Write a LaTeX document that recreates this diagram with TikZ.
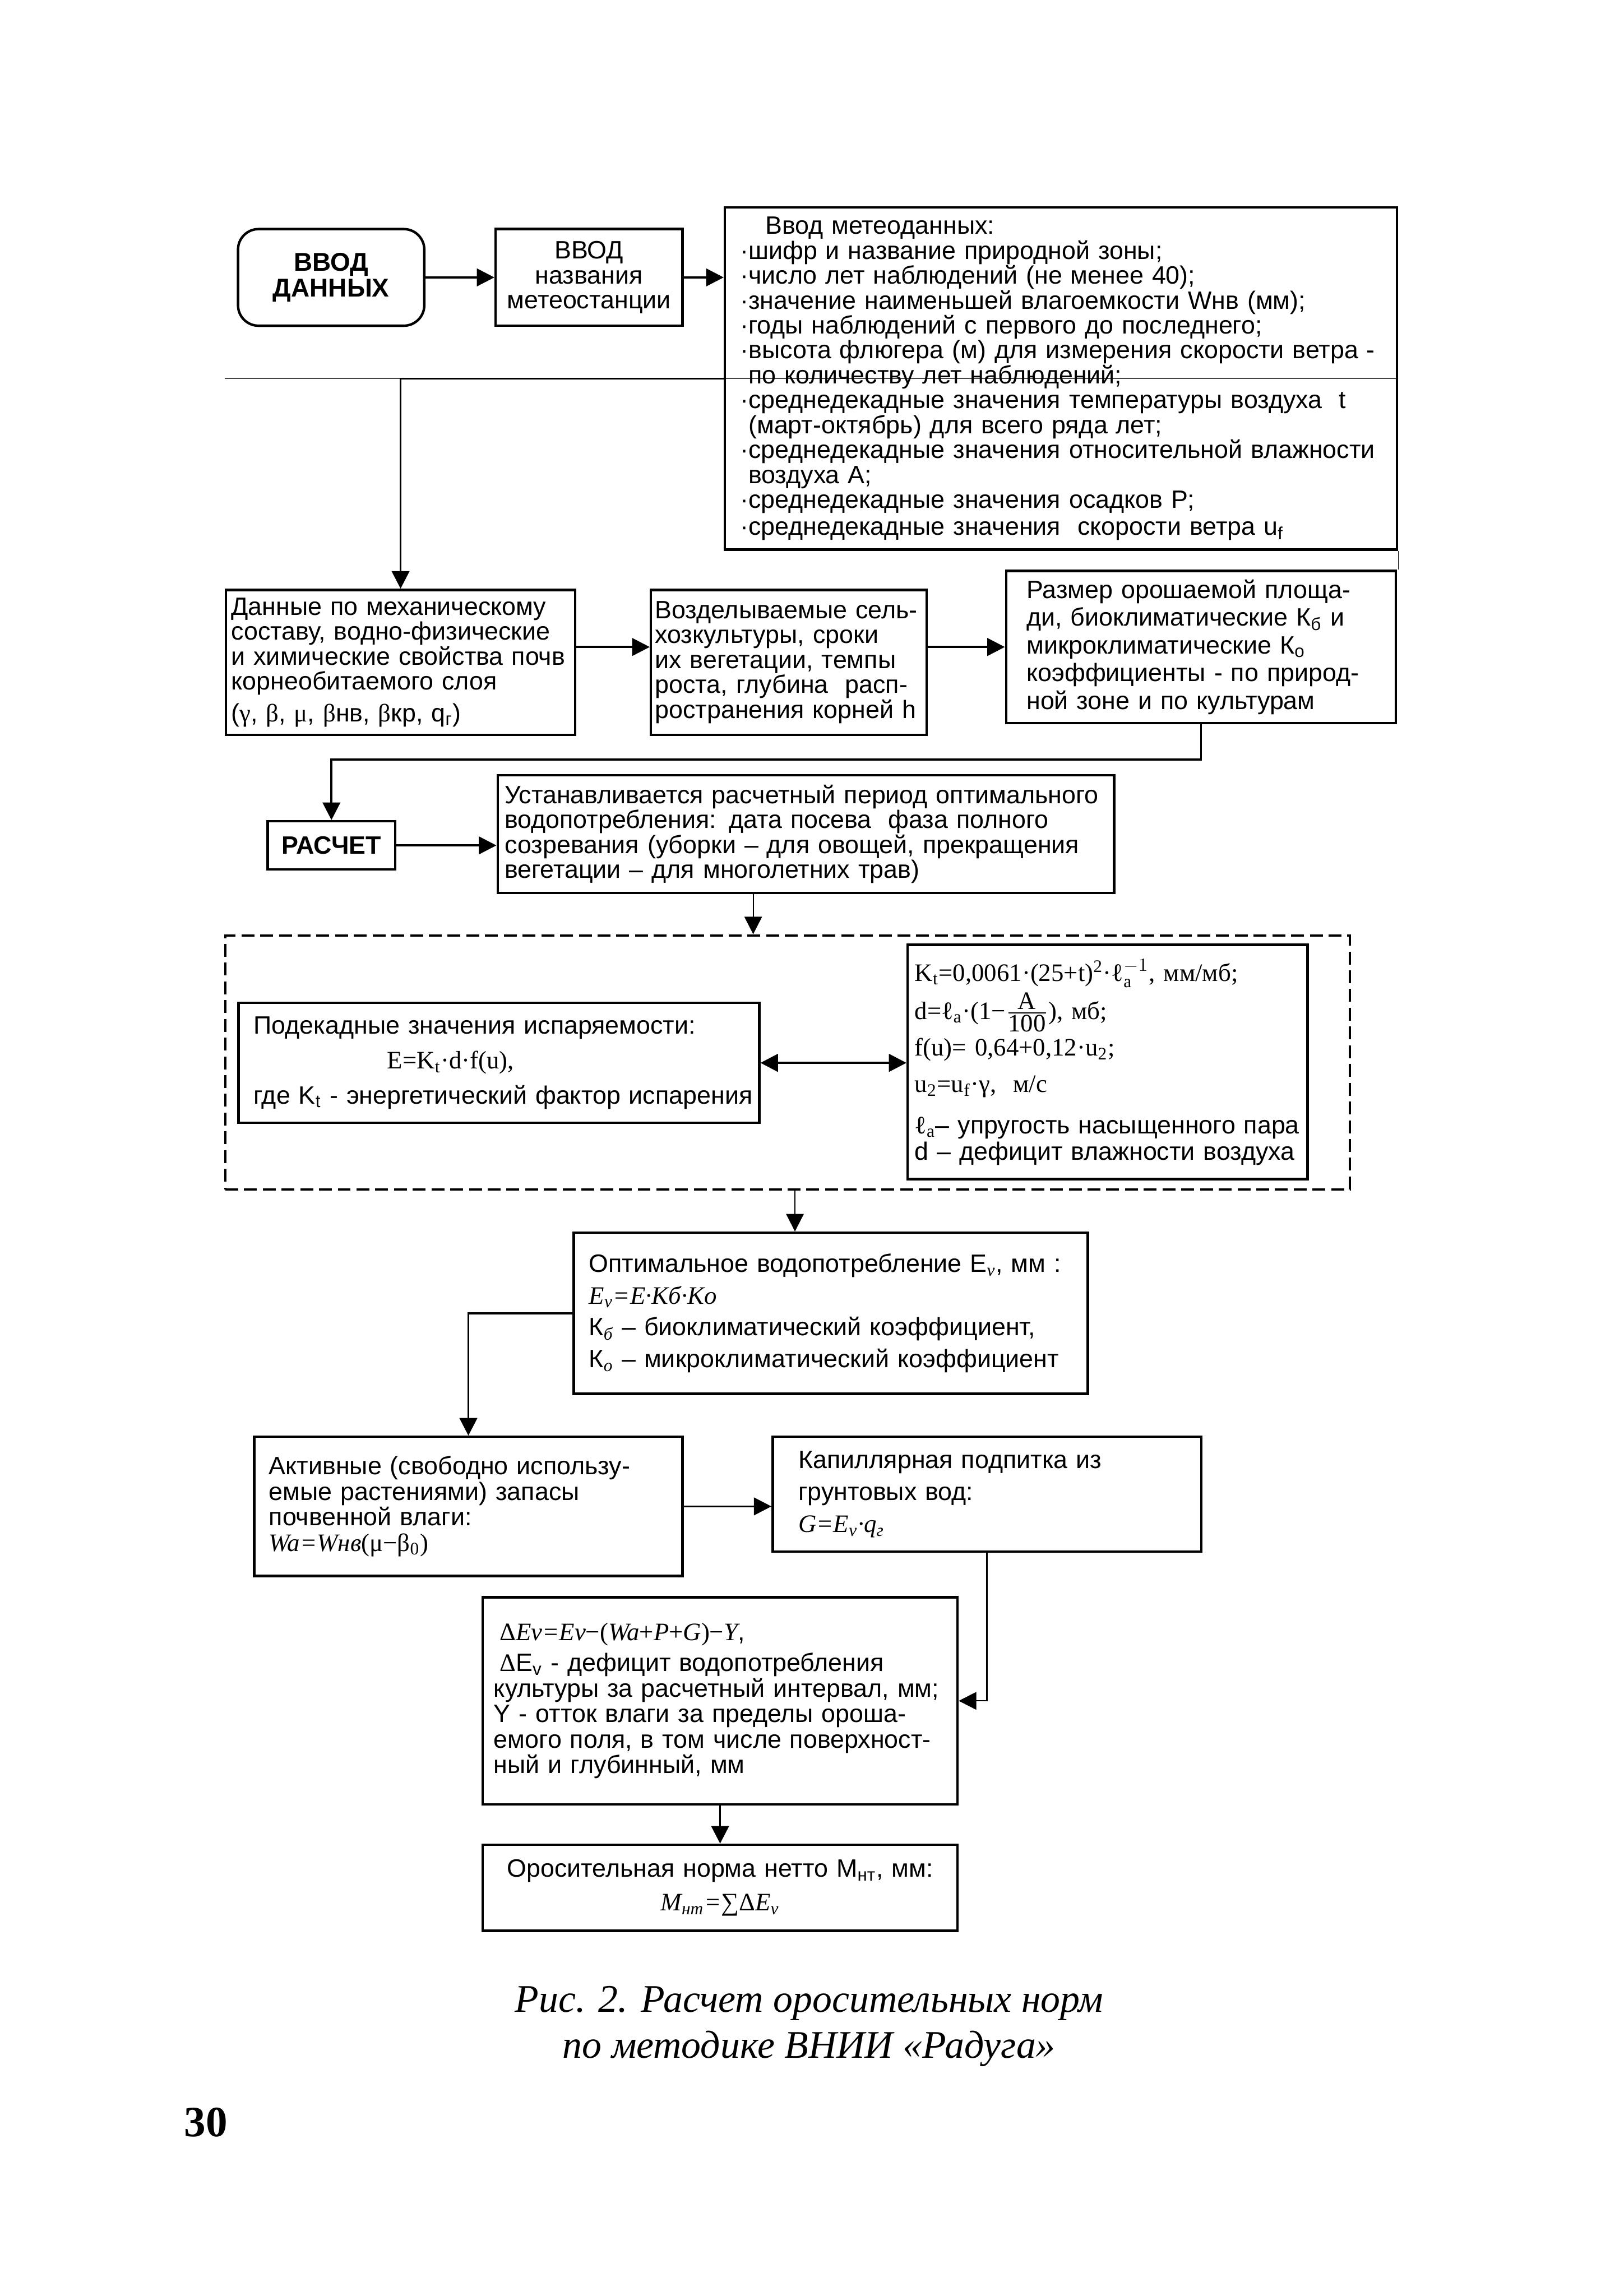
\documentclass[tikz,border=0pt]{standalone}
\usepackage{fontspec}
\setmainfont{Liberation Serif}
\setsansfont{Liberation Sans}
\usepackage{amsmath}
\usetikzlibrary{arrows.meta, positioning, calc}
\lineskiplimit=-\maxdimen
\newcommand{\gr}[1]{{\rmfamily #1}}
\newcommand{\fml}[1]{{\rmfamily\itshape #1}}

\begin{document}
\begin{tikzpicture}[x=0.25mm, y=-0.25mm,
    box/.style={draw, line width=1.2pt, anchor=north west, inner ysep=0pt, align=left,
      font=\sffamily\fontsize{12.2}{12.1}\selectfont},
    lead/.style={font=\sffamily\fontsize{12.2}{#1}\selectfont},
    arr/.style={line width=1pt, -{Triangle[length=3mm, width=3mm]}},
    arrthin/.style={line width=0.6pt, -{Triangle[length=3mm, width=3mm]}},
    arrboth/.style={line width=1.2pt, {Triangle[length=3mm, width=3mm]}-{Triangle[length=3mm, width=3mm]}},
    hair/.style={line width=0.4pt},
    grp/.style={draw, line width=1.2pt, dash pattern=on 2.2mm off 1mm, anchor=north west, inner sep=0pt}]
  \useasboundingbox (0,0) rectangle (1109,1568);

  \node[box, rounded corners=3.5mm, align=center, inner xsep=1mm, text width=29.8mm, minimum height=16.5mm,
    font=\sffamily\bfseries\fontsize{12.5}{12.4}\selectfont] (vvod) at (161.7,155.6) {ВВОД\\ДАННЫХ};
  \node[box, align=center, inner xsep=1mm, text width=29.9mm, minimum height=16.5mm] (stan) at (337.6,155.6)
    {ВВОД\\названия\\метеостанции};
  \node[box, inner xsep=2.6mm, text width=109.55mm, minimum height=58.4mm] (meteo) at (494.2,140.9)
    {\hspace*{4.3mm}Ввод метеоданных:\\
     ·шифр и название природной зоны;\\
     ·число лет наблюдений (не менее 40);\\
     ·значение наименьшей влагоемкости Wнв (мм);\\
     ·годы наблюдений с первого до последнего;\\
     ·высота флюгера (м) для измерения скорости ветра -\\
     \phantom{·}по количеству лет наблюдений;\\
     ·среднедекадные значения температуры воздуха\ \ t\\
     \phantom{·}(март-октябрь) для всего ряда лет;\\
     ·среднедекадные значения относительной влажности\\
     \phantom{·}воздуха А;\\
     ·среднедекадные значения осадков Р;\\[1pt]
     ·среднедекадные значения\ \ скорости ветра u\textsubscript{f}};

  \node[box, inner xsep=0.9mm, text width=57.8mm, minimum height=24.75mm] (pochva) at (153.5,402)
    {Данные по механическому\\
     составу, водно-физические\\
     и химические свойства почв\\
     корнеобитаемого слоя\\[3.2pt]
     (\gr{γ}, \gr{β}, \gr{μ}, \gr{β}нв, \gr{β}кр, q\textsubscript{г})};
  \node[box, inner xsep=0.7mm, text width=45.65mm, minimum height=24.75mm] (kult) at (443.7,402)
    {Возделываемые сель-\\
     хозкультуры, сроки\\
     их вегетации, темпы\\
     роста, глубина\ \ расп-\\
     ространения корней h};
  \node[box, lead=13.5, inner xsep=3.5mm, text width=59.55mm, minimum height=26mm] (ploshad) at (686.2,389)
    {Размер орошаемой площа-\\
     ди, биоклиматические К\textsubscript{б} и\\
     микроклиматические К\textsubscript{о}\\
     коэффициенты - по природ-\\
     ной зоне и по культурам};

  \node[box, align=center, inner xsep=1mm, text width=19.75mm, minimum height=8.25mm,
    font=\sffamily\bfseries\fontsize{12.2}{12}\selectfont] (raschet) at (182,560) {РАСЧЕТ};
  \node[box, inner xsep=1.2mm, text width=102.85mm, minimum height=20.1mm] (period) at (339,528.6)
    {Устанавливается расчетный период оптимального\\
     водопотребления: дата посева\ \ фаза полного\\
     созревания (уборки – для овощей, прекращения\\
     вегетации – для многолетних трав)};

  \node[grp, minimum width=192mm, minimum height=43.35mm] (evgroup) at (153,638) {};
  \node[box, lead=17, inner xsep=2.6mm, text width=83.7mm, minimum height=20.5mm] (isp) at (162,684)
    {Подекадные значения испаряемости:\\
     \hspace*{22.8mm}{\rmfamily E=K\textsubscript{t}·d·f(u),}\\
     \mbox{где K\textsubscript{t} - энергетический фактор испарения}};
  \node[box, font=\rmfamily\fontsize{12.2}{12.1}\selectfont, inner xsep=1.2mm, text width=65.85mm,
    minimum height=40mm] (formula) at (619,644.4)
    {K\textsubscript{t}=0,0061·(25+t)\textsuperscript{2}·$\text{ℓ}^{-1}_{\text{a}}$, мм/мб;\\[6.4pt]
     d=ℓ\textsubscript{a}·(1−\smash{$\genfrac{}{}{0.6pt}{1}{\mbox{A}}{\mbox{100}}$}), мб;\\[5.7pt]
     f(u)= 0,64+0,12·u\textsubscript{2};\\[5.7pt]
     u\textsubscript{2}=u\textsubscript{f}·γ,\ \ м/с\\[7.8pt]
     ℓ\textsubscript{a}{\sffamily– упругость насыщенного пара}\\[0.7pt]
     {\sffamily d – дефицит влажности воздуха}};

  \node[box, lead=15.4, inner xsep=2.6mm, text width=82.55mm, minimum height=27.5mm] (opt) at (391,841)
    {Оптимальное водопотребление E\textsubscript{\fml{v}}, мм :\\
     \fml{E\textsubscript{v}=E·Kб·Ko}\\
     К\textsubscript{\fml{б}} – биоклиматический коэффициент,\\
     К\textsubscript{\fml{о}} – микроклиматический коэффициент};

  \node[box, lead=12.4, inner xsep=2.5mm, text width=68.1mm, minimum height=23.75mm] (aktiv) at (172.8,980.4)
    {Активные (свободно использу-\\
     емые растениями) запасы\\
     почвенной влаги:\\
     \fml{Wa=Wнв}\gr{(μ−β\textsubscript{0})}};
  \node[box, lead=15.6, inner xsep=4.4mm, text width=64.35mm, minimum height=19.6mm] (kapil) at (526.8,980.4)
    {Капиллярная подпитка из\\
     грунтовых вод:\\
     \fml{G=E\textsubscript{v}·q\textsubscript{г}}};

  \node[box, lead=12.4, inner xsep=1.9mm, text width=77.25mm, minimum height=35.35mm] (deficit) at (328.8,1090)
    {\hspace*{1mm}\gr{Δ}\fml{Ev=Ev}\gr{−(}\fml{Wa}\gr{+}\fml{P}\gr{+}\fml{G}\gr{)−}\fml{Y},\\[2.6pt]
     \hspace*{1mm}\gr{Δ}E\textsubscript{v} - дефицит водопотребления\\
     культуры за расчетный интервал, мм;\\
     Y - отток влаги за пределы ороша-\\
     емого поля, в том числе поверхност-\\
     ный и глубинный, мм};
  \node[box, lead=16.4, align=center, inner xsep=1.9mm, text width=77.25mm, minimum height=14.7mm] (norma) at (328.8,1259)
    {Оросительная норма нетто М\textsubscript{нт}, мм:\\
     \fml{M\textsubscript{нт}=}\gr{∑Δ}\fml{E\textsubscript{v}}};

  \node[anchor=base, font=\rmfamily\itshape\fontsize{19}{22}\selectfont] (capa) at (552.5,1374)
    {Рис. 2. Расчет оросительных норм};
  \node[anchor=base, font=\rmfamily\itshape\fontsize{19}{22}\selectfont] (capb) at (552.5,1405.5)
    {по методике ВНИИ «Радуга»};
  \node[anchor=base west, inner sep=0pt, font=\rmfamily\bfseries\fontsize{21}{21}\selectfont] (pagenum) at (125.5,1459) {30};

  \draw[hair] (pochva.west |- meteo.west) -- (meteo.east);
  \draw[hair] (meteo.south east) -- (meteo.south east |- ploshad.north);

  \draw[arr] (vvod) -- (stan);
  \draw[arr] (stan.east) -- (stan.east -| meteo.west);
  \draw[arr] (meteo.west) -| (pochva.north);
  \draw[arr] (pochva.east |- ploshad.west) -- (kult.west |- ploshad.west);
  \draw[arr] (kult.east |- ploshad.west) -- (ploshad.west);
  \draw[arr] (ploshad.south) -- ++(0,24) -| (raschet.north);
  \draw[arr] (raschet) -- (raschet -| period.west);
  \draw[arrthin] ([xshift=-9mm]period.south) -- ([xshift=-9mm]period.south |- evgroup.north);
  \draw[arrboth] (isp.east) -- (isp.east -| formula.west);
  \draw[arrthin] ([xshift=1.25mm]evgroup.south) -- ([xshift=1.25mm]evgroup.south |- opt.north);
  \draw[arr] (opt.west) -| (aktiv.north);
  \draw[arr] (aktiv) -- (aktiv -| kapil.west);
  \draw[arrthin] (kapil.south) |- (deficit.east);
  \draw[arr] (deficit.south) -- (norma.north);
\end{tikzpicture}
\end{document}
